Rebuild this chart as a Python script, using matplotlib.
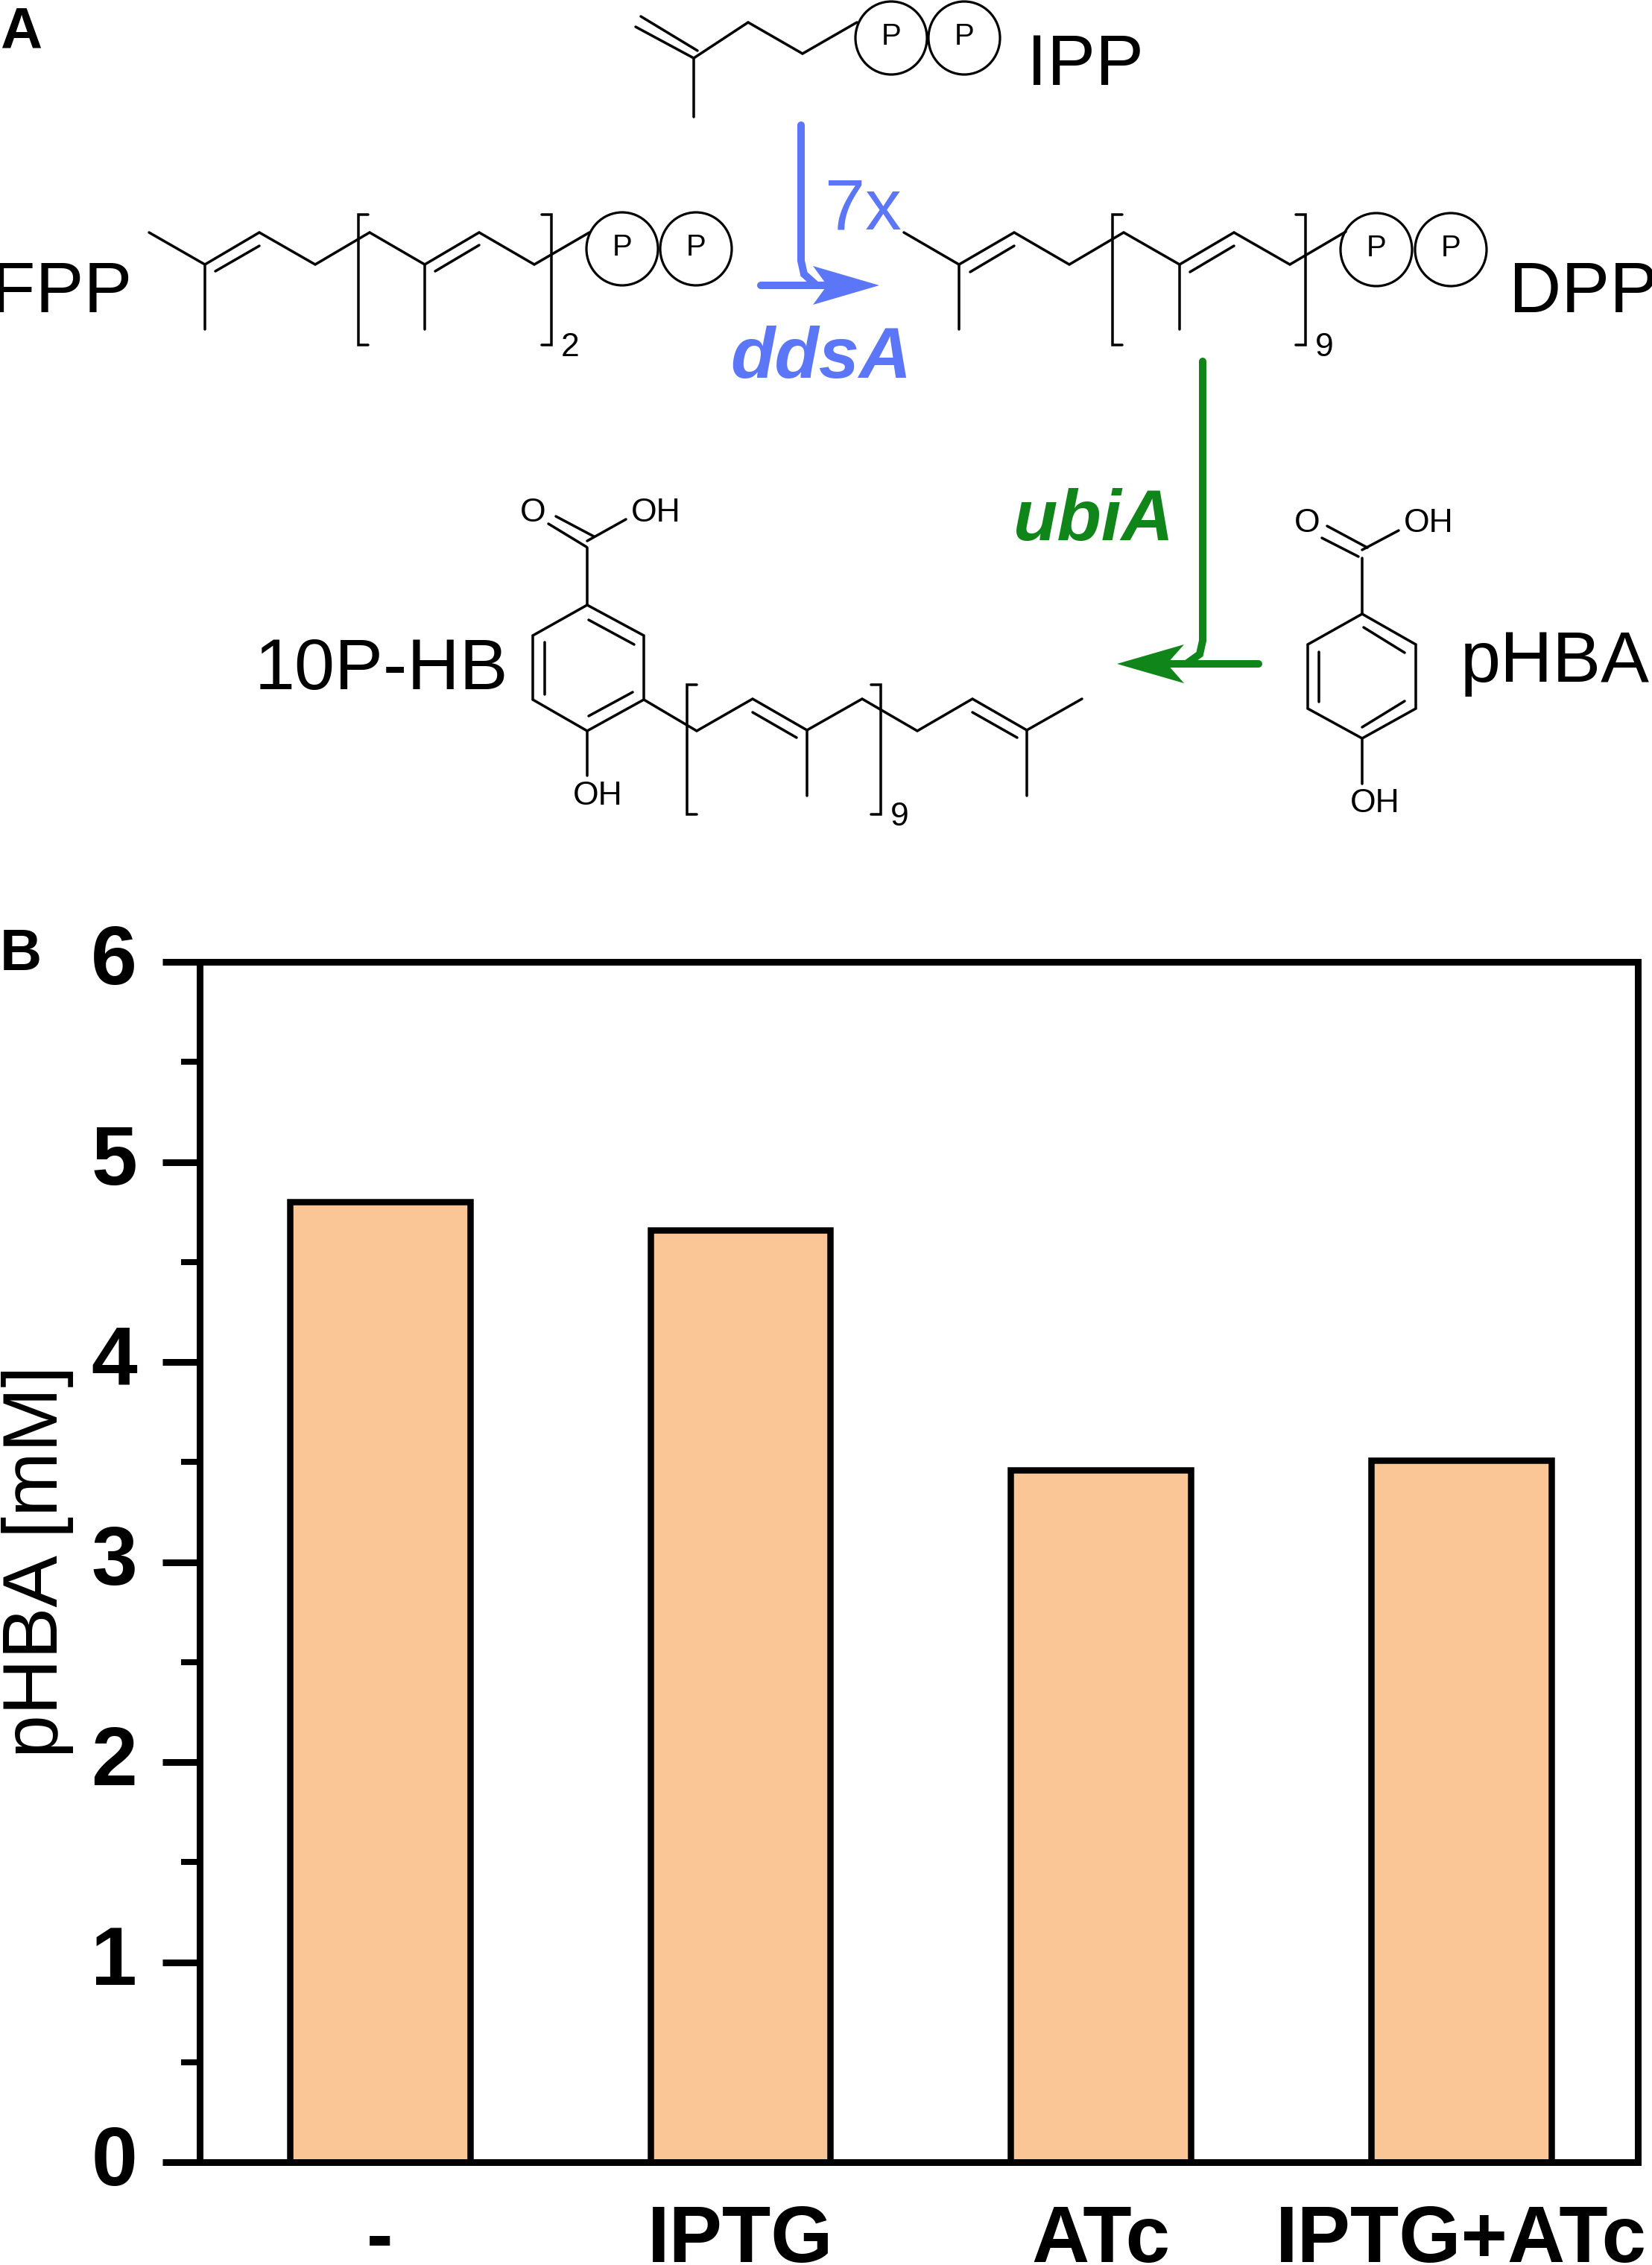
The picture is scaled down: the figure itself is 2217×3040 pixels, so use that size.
import matplotlib
matplotlib.use("Agg")
import matplotlib.pyplot as plt
from matplotlib.patches import Ellipse, Polygon
from matplotlib.ticker import MultipleLocator
from matplotlib.transforms import ScaledTranslation

# ####################################### DATA ################################################################ #
conditions = ["-", "IPTG", "ATc", "IPTG+ATc"]
phba_mM = [4.80, 4.66, 3.46, 3.51]
y_major = [0, 1, 2, 3, 4, 5, 6]

# ####################################### STYLE ############################################################### #
W, H = 2217, 3040
DPI = 100
BLUE = "#5B76F6"
GREEN = "#10851A"
BAR = "#FAC696"
plt.rcParams["font.family"] = ["Liberation Sans", "DejaVu Sans"]


def px(n):
    # pixels of the output to points
    return n * 72.0 / DPI


fig = plt.figure(figsize=(W / DPI, H / DPI), dpi=DPI, facecolor="white")

# ####################################### PANEL B ############################################################# #
ax = fig.add_axes([268 / W, 1 - 2902 / H, (2198 - 268) / W, (2902 - 1291) / H])
ax.bar(range(len(phba_mM)), phba_mM, width=0.5, color=BAR, edgecolor="black", linewidth=px(8.5))
ax.set_xlim(-0.5, 3.49)
ax.set_ylim(0, 6)
ax.set_xticks(range(len(conditions)))
ax.set_xticklabels(conditions, fontsize=77, fontweight="bold")
ax.set_yticks(y_major)
ax.set_yticklabels([str(v) for v in y_major], fontsize=80, fontweight="bold")
ax.yaxis.set_minor_locator(MultipleLocator(0.5))
ax.tick_params(axis="y", which="major", length=px(50), width=px(9), pad=px(34))
ax.tick_params(axis="y", which="minor", length=px(25), width=px(8))
ax.tick_params(axis="x", length=0, pad=px(56))
for s in ax.spines.values():
    s.set_linewidth(px(9))
ax.set_ylabel("pHBA [mM]", fontsize=75, va="baseline")
ax.yaxis.set_label_coords((77 - 268) / (2198 - 268), (2902 - 2096) / (2902 - 1291))
# digits sit a little above their ticks
for t in ax.get_yticklabels():
    t.set_transform(t.get_transform() + ScaledTranslation(0, 10 / DPI, fig.dpi_scale_trans))

# ####################################### PANEL A ############################################################# #
# overlay in picture pixels, y downwards
ov = fig.add_axes([0, 0, 1, 1], facecolor="none")
ov.set_xlim(0, W)
ov.set_ylim(H, 0)
ov.axis("off")


def bond(*pts, lw=3.5, color="black"):
    xs = [p[0] for p in pts]
    ys = [p[1] for p in pts]
    ov.plot(xs, ys, color=color, lw=px(lw), solid_capstyle="round", solid_joinstyle="miter")


def label(x, y, s, size=70, ha="left", va="baseline", **kw):
    ov.text(x, y, s, fontsize=size, ha=ha, va=va, **kw)


def bracket(x0, x1, y0, y1, sub):
    bond((x0 + 13, y0), (x0, y0), (x0, y1), (x0 + 13, y1))
    bond((x1 - 13, y0), (x1, y0), (x1, y1), (x1 - 13, y1))
    label(x1 + 25, y1 + 3, sub, size=32, ha="center", va="center")


def phosphates(x1, x2, y):
    for x in (x1, x2):
        ov.add_patch(Ellipse((x, y), 96, 98, fill=False, ec="black", lw=px(3.2)))
        label(x, y - 2, "P", size=29, ha="center", va="center")


def ring(pts, inner):
    bond(*pts, pts[0])
    for a, b in inner:
        bond(a, b)


def arrow_head(tip, back, half, notch, color):
    # tip pointing along x, back = x of the barbs, notch = x of the inner point
    y = tip[1]
    ov.add_patch(Polygon([tip, (back, y - half), (notch, y), (back, y + half)],
                         closed=True, fc=color, ec="none"))


# IPP
bond((860, 22), (936, 68))
bond((853, 36), (931, 78))
bond((931, 78), (931, 157))
bond((931, 78), (1004, 30), (1077, 72), (1150, 30))
phosphates(1196, 1294, 51)
label(1378, 114, "IPP")

# FPP
bond((200, 312), (275, 355), (348, 312), (423, 355), (496, 312), (570, 355), (643, 312), (717, 355), (791, 312))
bond((275, 355), (275, 442))
bond((570, 355), (570, 442))
bond((289, 364), (348, 330))
bond((584, 364), (643, 329))
bracket(481, 740, 288, 463, "2")
phosphates(835, 934, 334)
label(177, 419, "FPP", ha="right")

# DPP
bond((1213, 312), (1287, 355), (1361, 312), (1435, 355), (1508, 312), (1583, 355), (1656, 312), (1731, 355), (1806, 311))
bond((1287, 355), (1287, 442))
bond((1583, 355), (1583, 442))
bond((1302, 365), (1361, 330))
bond((1597, 365), (1656, 330))
bracket(1493, 1752, 288, 463, "9")
phosphates(1847, 1947, 335)
label(2025, 419, "DPP")

# ddsA arrow
bond((1075, 168), (1075, 350), (1079, 368), (1096, 383), lw=10, color=BLUE)
bond((1021, 383), (1125, 383), lw=10, color=BLUE)
arrow_head((1180, 383), 1091, 26, 1110, BLUE)
label(1107, 307, "7x", color=BLUE)
label(980, 507, "ddsA", color=BLUE, fontweight="bold", fontstyle="italic")

# 10P-HB
ring([(788, 812), (864, 853), (864, 939), (788, 981), (715, 939), (715, 853)],
     [((790, 832), (851, 865)), ((731, 862), (731, 932)), ((790, 961), (849, 929))])
bond((788, 812), (788, 735))
bond((736, 703), (787, 734))
bond((746, 693), (797, 720))
bond((788, 726), (840, 697))
bond((788, 981), (788, 1041))
label(715, 688, "O", size=32, ha="center", va="center")
label(847, 688, "OH", size=32, va="center")
label(769, 1069, "OH", size=32, va="center")
bond((864, 939), (935, 981), (1010, 938), (1083, 980), (1157, 938), (1231, 981), (1305, 938), (1378, 980), (1452, 938))
bond((1083, 980), (1083, 1068))
bond((1378, 980), (1378, 1068))
bond((1010, 956), (1069, 990))
bond((1305, 956), (1365, 990))
bracket(922, 1182, 919, 1093, "9")
label(342, 925, "10P-HB")

# pHBA
ring([(1828, 824), (1900, 865), (1900, 951), (1828, 991), (1755, 951), (1755, 865)],
     [((1830, 842), (1885, 876)), ((1770, 875), (1770, 942)), ((1828, 976), (1885, 941))])
bond((1828, 824), (1828, 749))
bond((1774, 722), (1823, 747))
bond((1781, 706), (1835, 735))
bond((1828, 738), (1877, 712))
bond((1828, 991), (1828, 1052))
label(1754, 702, "O", size=32, ha="center", va="center")
label(1884, 702, "OH", size=32, va="center")
label(1812, 1078, "OH", size=32, va="center")
label(1960, 915, "pHBA")

# ubiA arrow
bond((1614, 485), (1614, 860), (1610, 878), (1592, 891), lw=10, color=GREEN)
bond((1689, 891), (1560, 891), lw=10, color=GREEN)
arrow_head((1499, 891), 1589, 26, 1566, GREEN)
label(1360, 725, "ubiA", color=GREEN, fontweight="bold", fontstyle="italic")

# panel letters
label(0, 65, "A", size=56, fontweight="bold")
label(0, 1302, "B", size=56, fontweight="bold")

fig.savefig("out.png", dpi=DPI, facecolor="white")
